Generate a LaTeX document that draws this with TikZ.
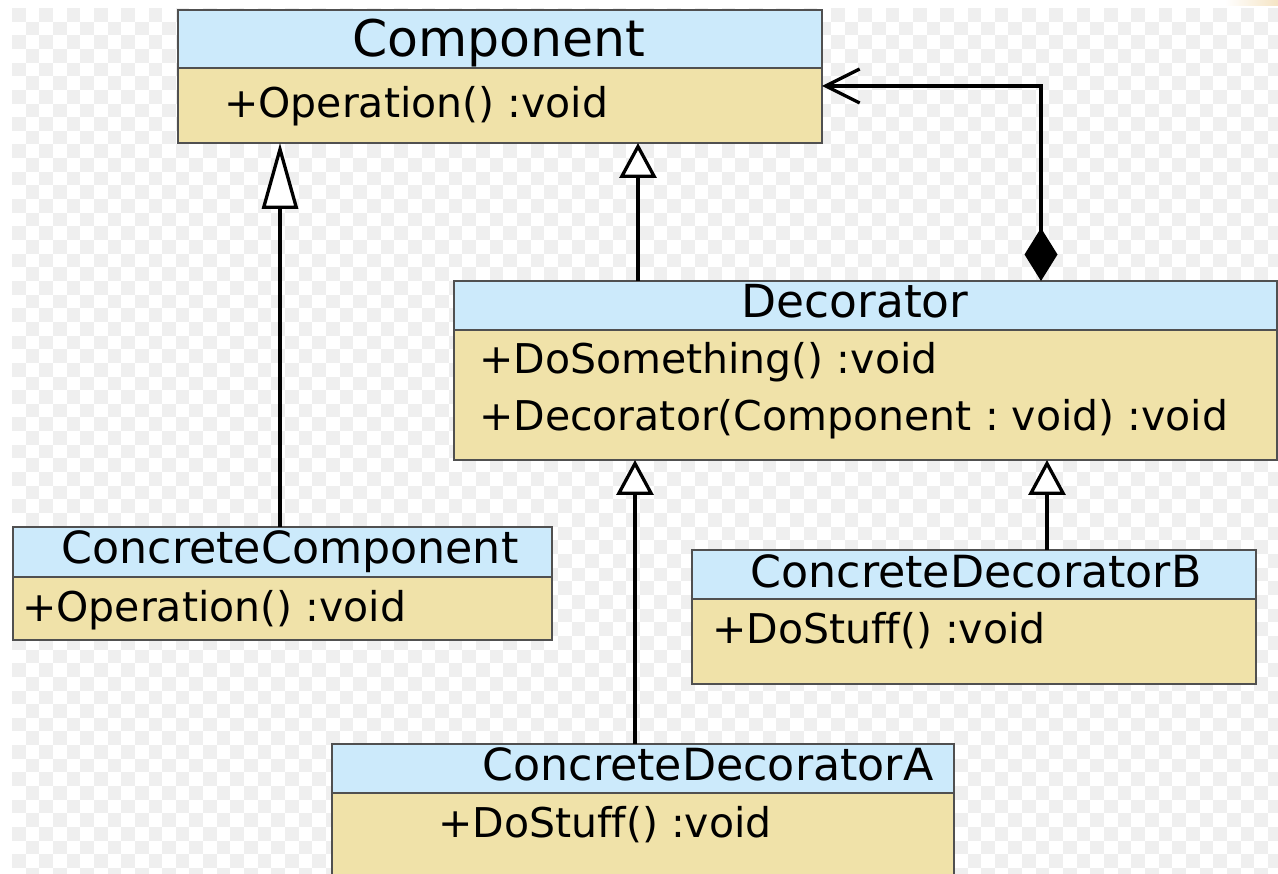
\documentclass[tikz,border=0pt]{standalone}
\usepackage{fontspec}
\setmainfont[Ligatures={NoCommon}]{DejaVu Sans}
\frenchspacing
\usetikzlibrary{arrows.meta}
\definecolor{hdr}{RGB}{204,234,251}
\definecolor{bdy}{RGB}{240,226,169}
\definecolor{edge}{RGB}{80,80,80}
\definecolor{chk}{RGB}{239,239,239}
\definecolor{corner}{RGB}{245,228,196}
\tikzset{
  cls/.style={draw=edge, line width=1.5pt, inner sep=0pt, outer sep=0pt, anchor=north west},
  hbox/.style={cls, fill=hdr},
  bbox/.style={cls, fill=bdy},
  hname/.style={anchor=base, inner sep=0pt, font=\fontsize{44.3}{52}\selectfont},
  member/.style={anchor=base west, inner sep=0pt, font=\fontsize{41}{49}\selectfont},
  link/.style={line width=3.3pt, black},
  gen/.style={link, -{Triangle[fill=white, length=35pt, width=37pt]}},
  gentall/.style={link, -{Triangle[fill=white, length=66pt, width=36pt]}},
  agg/.style={link, {Diamond[length=53pt, width=33pt]}-{Straight Barb[length=34pt, width=34pt]}},
}
\begin{document}
\begin{tikzpicture}[x=1pt, y=-1pt]
  \clip (0,0) rectangle (1278,874);
  \fill[white] (0,0) rectangle (1278,874);
  % checkered backdrop
  \foreach \j in {0,...,63} {
    \pgfmathtruncatemacro\off{mod(\j,2)}
    \foreach \i in {0,2,...,92} {
      \fill[chk] ({12+(\i+\off)*13.65},{8+\j*13.65}) rectangle ++(13.65,13.65);
    }
  }
  \shade[left color=white, right color=corner] (1225,0) rectangle (1278,6);

  % Component
  \node[hbox, minimum width=644pt, minimum height=58pt] (compH) at (178,10) {};
  \node[bbox, minimum width=644pt, minimum height=75pt] (compB) at (178,68) {};
  \node[hname, font=\fontsize{50.5}{60}\selectfont] (compN) at (499,57) {Component};
  \node[member] (compM) at (224,118) {+Operation() :void};

  % Decorator
  \node[hbox, minimum width=823pt, minimum height=49pt] (decH) at (454,281) {};
  \node[bbox, minimum width=823pt, minimum height=130pt] (decB) at (454,330) {};
  \node[hname, font=\fontsize{45.5}{54}\selectfont] (decN) at (855,318) {Decorator};
  \node[member] (decM1) at (479,374) {+DoSomething() :void};
  \node[member] (decM2) at (479,431) {+Decorator(Component : void) :void};

  % ConcreteComponent
  \node[hbox, minimum width=539pt, minimum height=50pt] (ccH) at (13,527) {};
  \node[bbox, minimum width=539pt, minimum height=63pt] (ccB) at (13,577) {};
  \node[hname] (ccN) at (290,563) {ConcreteComponent};
  \node[member] (ccM) at (22,621) {+Operation() :void};

  % ConcreteDecoratorB
  \node[hbox, minimum width=564pt, minimum height=49pt] (cdbH) at (692,550) {};
  \node[bbox, minimum width=564pt, minimum height=85pt] (cdbB) at (692,599) {};
  \node[hname] (cdbN) at (976,587) {ConcreteDecoratorB};
  \node[member] (cdbM) at (712,643) {+DoStuff() :void};

  % ConcreteDecoratorA
  \node[hbox, minimum width=622pt, minimum height=49pt] (cdaH) at (332,744) {};
  \node[bbox, minimum width=622pt, minimum height=100pt] (cdaB) at (332,793) {};
  \node[hname] (cdaN) at (708,780) {ConcreteDecoratorA};
  \node[member] (cdaM) at (438,837) {+DoStuff() :void};

  % connector columns
  \coordinate (xcc) at (280,0);
  \coordinate (xdec) at (638,0);
  \coordinate (xagg) at (1041,0);
  \coordinate (yagg) at (0,86);
  \coordinate (xcda) at (635,0);
  \coordinate (xcdb) at (1047,0);

  % generalisations
  \draw[gentall] (xcc |- ccH.north) -- (xcc |- compB.south);
  \draw[gen] (xdec |- decH.north) -- (xdec |- compB.south);
  \draw[gen] (xcda |- cdaH.north) -- (xcda |- decB.south);
  \draw[gen] (xcdb |- cdbH.north) -- (xcdb |- decB.south);

  % composition
  \draw[agg] (xagg |- decH.north) |- (compB.east |- yagg);
\end{tikzpicture}
\end{document}
